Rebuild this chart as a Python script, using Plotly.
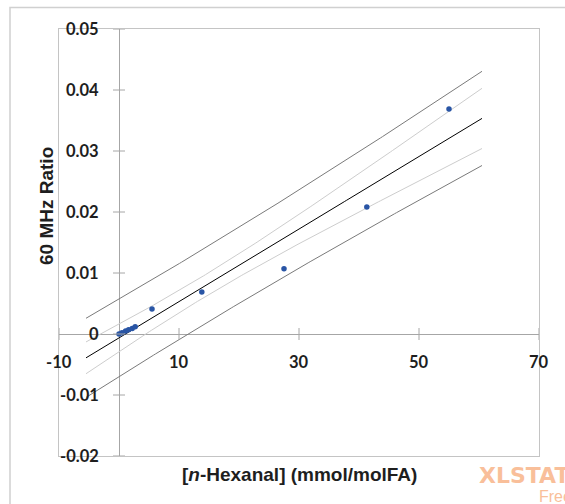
import numpy as np
import plotly.graph_objects as go

# Calibration data: n-hexanal concentration vs. 60 MHz signal ratio
hexanal = [0.0, 0.5, 1.1, 1.6, 2.2, 2.7, 5.5, 13.8, 27.5, 41.3, 55.0]
ratio = [0.0, 0.0002, 0.0005, 0.0007, 0.0009, 0.0012, 0.0041, 0.0069, 0.0107, 0.0208, 0.0369]

x_ticks = [-10, 10, 30, 50, 70]
x_tick_labels = ["-10", "10", "30", "50", "70"]
y_ticks = [0.05, 0.04, 0.03, 0.02, 0.01, 0.0, -0.01, -0.02]
y_tick_labels = ["0.05", "0.04", "0.03", "0.02", "0.01", "0", "-0.01", "-0.02"]

# Student t, two-sided 95 %, n - 2 = 9 degrees of freedom
T_95 = 2.262

x = np.array(hexanal)
y = np.array(ratio)
n = len(x)
slope, intercept = np.polyfit(x, y, 1)
resid = y - (intercept + slope * x)
s = np.sqrt(np.sum(resid ** 2) / (n - 2))
xbar = x.mean()
sxx = np.sum((x - xbar) ** 2)

span = x.max() - x.min()
xs = np.linspace(x.min() - 0.1 * span, x.max() + 0.1 * span, 200)
fit = intercept + slope * xs
ci = T_95 * s * np.sqrt(1 / n + (xs - xbar) ** 2 / sxx)
pi = T_95 * s * np.sqrt(1 + 1 / n + (xs - xbar) ** 2 / sxx)

W, H = 565, 504
ML, MR, MT, MB = 59, 26, 29, 48
PW, PH = W - ML - MR, H - MT - MB


def px_x(p):
    return (p - ML) / PW


def px_y(p):
    return (H - MB - p) / PH


fig = go.Figure()
light = dict(color="#cdcdcd", width=1)
dark = dict(color="#7a7a7a", width=1)
fig.add_trace(go.Scatter(x=xs, y=fit + pi, mode="lines", line=dark, hoverinfo="skip"))
fig.add_trace(go.Scatter(x=xs, y=fit - pi, mode="lines", line=dark, hoverinfo="skip"))
fig.add_trace(go.Scatter(x=xs, y=fit + ci, mode="lines", line=light, hoverinfo="skip"))
fig.add_trace(go.Scatter(x=xs, y=fit - ci, mode="lines", line=light, hoverinfo="skip"))
fig.add_trace(go.Scatter(x=xs, y=fit, mode="lines", line=dict(color="#000000", width=1), hoverinfo="skip"))
fig.add_trace(go.Scatter(x=hexanal, y=ratio, mode="markers",
                         marker=dict(color="#2955a5", size=5.5, line=dict(width=0))))

axis_grey = "#a6a6a6"
shapes = []
for xv in x_ticks:
    shapes.append(dict(type="line", xref="x", yref="y", x0=xv, x1=xv,
                       ysizemode="pixel", yanchor=0, y0=-6, y1=6,
                       line=dict(color=axis_grey, width=1)))
for yv in y_ticks:
    shapes.append(dict(type="line", xref="x", yref="y", y0=yv, y1=yv,
                       xsizemode="pixel", xanchor=0, x0=-6, x1=6,
                       line=dict(color=axis_grey, width=1)))
# outer chart border
shapes.append(dict(type="rect", xref="paper", yref="paper",
                   x0=px_x(10), x1=px_x(590), y0=px_y(530), y1=px_y(7.5),
                   line=dict(color="#d0d0d0", width=1.5)))

tick_font = dict(family="Lato", size=16.5, color="#1e1e1e", weight="bold")
annotations = []
for xv, lab in zip(x_ticks, x_tick_labels):
    annotations.append(dict(x=xv, y=0, xref="x", yref="y", text=lab, showarrow=False,
                            xanchor="center", yanchor="top", yshift=-16, font=tick_font))
for yv, lab in zip(y_ticks, y_tick_labels):
    annotations.append(dict(x=px_x(101), y=yv, xref="paper", yref="y", text=lab,
                            showarrow=False, xanchor="right", yanchor="middle", font=tick_font))

title_font = dict(family="Liberation Sans", size=19, color="#1e1e1e", weight="bold")
annotations.append(dict(x=30, y=px_y(474), xref="x", yref="paper",
                        text="[<i>n</i>-Hexanal] (mmol/molFA)", showarrow=False,
                        xanchor="center", yanchor="middle", font=title_font))
annotations.append(dict(x=px_x(46), y=px_y(206), xref="paper", yref="paper",
                        text="60 MHz Ratio", textangle=-90, showarrow=False,
                        xanchor="center", yanchor="middle", font=title_font))

wm = "#f9bf9a"
annotations.append(dict(x=px_x(477), y=px_y(475), xref="paper", yref="paper", text="XLSTAT",
                        showarrow=False, xanchor="left", yanchor="middle",
                        font=dict(family="DejaVu Sans", size=22, color=wm, weight="bold")))
annotations.append(dict(x=px_x(537), y=px_y(497), xref="paper", yref="paper", text="Free",
                        showarrow=False, xanchor="left", yanchor="middle",
                        font=dict(family="Liberation Sans", size=16, color=wm)))

fig.update_layout(
    width=W, height=H,
    margin=dict(l=ML, r=MR, t=MT, b=MB),
    paper_bgcolor="white", plot_bgcolor="white",
    showlegend=False,
    shapes=shapes,
    annotations=annotations,
    xaxis=dict(range=[-10, 70], showgrid=False, showticklabels=False, ticks="",
               zeroline=True, zerolinecolor=axis_grey, zerolinewidth=1,
               showline=True, mirror=True, linecolor="#c4c4c4", linewidth=1),
    yaxis=dict(range=[-0.02, 0.05], showgrid=False, showticklabels=False, ticks="",
               zeroline=True, zerolinecolor=axis_grey, zerolinewidth=1,
               showline=True, mirror=True, linecolor="#c4c4c4", linewidth=1),
)

fig.write_html("out.html")
